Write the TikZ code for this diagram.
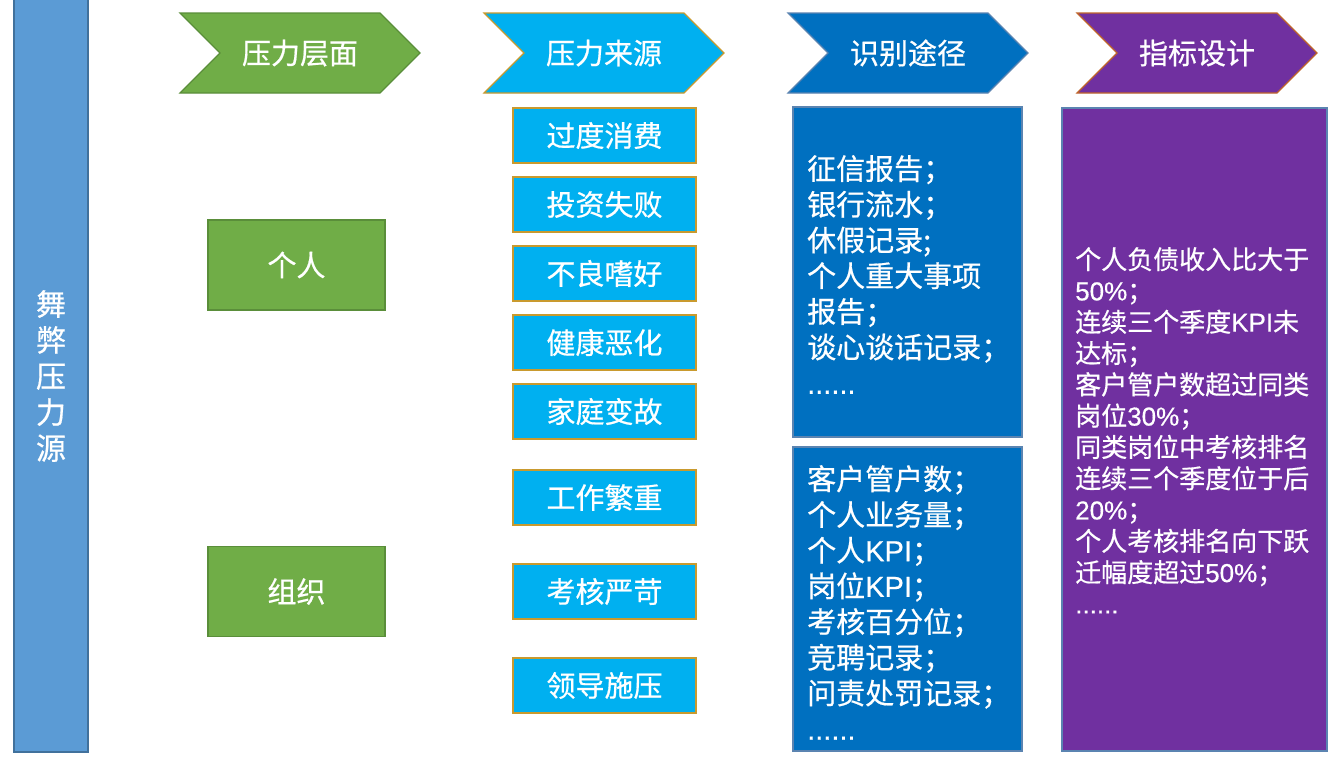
\documentclass[tikz,border=0pt]{standalone}
\usepackage{fontspec}
\setmainfont{Noto Sans CJK SC}[FakeBold=0.6]
\newfontfamily\lat{Liberation Sans}[FakeBold=0.4]
\usetikzlibrary{positioning, shapes.symbols}
\definecolor{barblue}{HTML}{5B9BD5}
\definecolor{barline}{HTML}{41719C}
\definecolor{lvgreen}{HTML}{70AD47}
\definecolor{lvline}{HTML}{5A8E3A}
\definecolor{srccyan}{HTML}{00B0F0}
\definecolor{srcgold}{HTML}{C99A2E}
\definecolor{wayblue}{HTML}{0070C0}
\definecolor{wayline}{HTML}{5B84B1}
\definecolor{idxpurple}{HTML}{7030A0}
\definecolor{idxline}{HTML}{C0652A}
\tikzset{
	every node/.append style={
		text=white,
		inner sep=0pt,
	},
	chevron/.append style={
		shape=signal,
		signal to=east,
		signal from=west,
		signal pointer angle=90,
		minimum width=240pt,
		minimum height=80pt,
		line width=1.2pt,
		font={\fontsize{29}{35}\selectfont}
	},
	levelbox/.append style={
		draw=lvline,
		fill=lvgreen,
		line width=1.2pt,
		minimum width=177pt,
		minimum height=90pt,
		font={\fontsize{29}{35}\selectfont}
	},
	srcbox/.append style={
		draw=srcgold,
		fill=srccyan,
		line width=1.5pt,
		minimum width=183pt,
		minimum height=55pt,
		font={\fontsize{29}{35}\selectfont}
	},
	listbox/.append style={
		draw=wayline,
		line width=1.2pt,
		minimum width=229pt
	},
	listtext/.append style={
		anchor=north west,
		align=left,
		font={\fontsize{29}{35.7}\selectfont}
	}
}

\begin{document}
\begin{tikzpicture}[x=1pt, y=-1pt]
	\useasboundingbox[fill=white] (0,0) rectangle (1329,756);

	% side bar
	\node(sidebar)[draw=barline, fill=barblue, line width=1.5pt, minimum width=74pt, minimum height=764pt] at (51,370) {};
	\node(sidetext)[align=center, font={\fontsize{30}{36}\selectfont}] at (51,376) {舞\\弊\\压\\力\\源};

	% headers
	\node(level)[chevron, fill=lvgreen, draw=lvline] at (300,53) {压力层面};
	\node(source)[chevron, fill=srccyan, draw=srcgold] at (604,53) {压力来源};
	\node(way)[chevron, fill=wayblue, draw=wayline] at (908,53) {识别途径};
	\node(index)[chevron, fill=idxpurple, draw=idxline] at (1197,53) {指标设计};

	% pressure levels
	\node(person)[levelbox] at (296.5,265) {个人};
	\node(organ)[levelbox] at (296.5,591.5) {组织};

	% pressure sources
	\node(spend)[srcbox] at (604.5,135.5) {过度消费};
	\node(invest)[srcbox, below=12.5pt of spend] {投资失败};
	\node(habit)[srcbox, below=12.5pt of invest] {不良嗜好};
	\node(health)[srcbox, below=12.5pt of habit] {健康恶化};
	\node(family)[srcbox, below=12.5pt of health] {家庭变故};
	\node(work)[srcbox] at (604.5,497.5) {工作繁重};
	\node(assess)[srcbox, below=37.5pt of work] {考核严苛};
	\node(leader)[srcbox, below=37.5pt of assess] {领导施压};

	% ways to identify
	\node(wayone)[listbox, fill=wayblue, minimum height=330pt] at (907.5,272) {};
	\node(waytwo)[listbox, fill=wayblue, minimum height=304pt] at (907.5,599) {};
	\node(wayonetext)[listtext] at (807,155) {征信报告；\\银行流水；\\休假记录;\\个人重大事项\\报告；\\谈心谈话记录；\\{\lat ......}};
	\node(waytwotext)[listtext] at (807,465) {客户管户数；\\个人业务量；\\个人{\lat KPI}；\\岗位{\lat KPI}；\\考核百分位；\\竞聘记录；\\问责处罚记录；\\{\lat ......}};

	% index design
	\node(indexbox)[listbox, fill=idxpurple, minimum width=265pt, minimum height=643pt] at (1194.5,429.5) {};
	\node(indextext)[listtext, font={\fontsize{26}{31.3}\selectfont}] at (1075,247) {个人负债收入比大于\\{\lat 50\%}；\\连续三个季度{\lat KPI}未\\达标；\\客户管户数超过同类\\岗位{\lat 30\%}；\\同类岗位中考核排名\\连续三个季度位于后\\{\lat 20\%}；\\个人考核排名向下跃\\迁幅度超过{\lat 50\%}；\\{\lat ......}};
\end{tikzpicture}
\end{document}
